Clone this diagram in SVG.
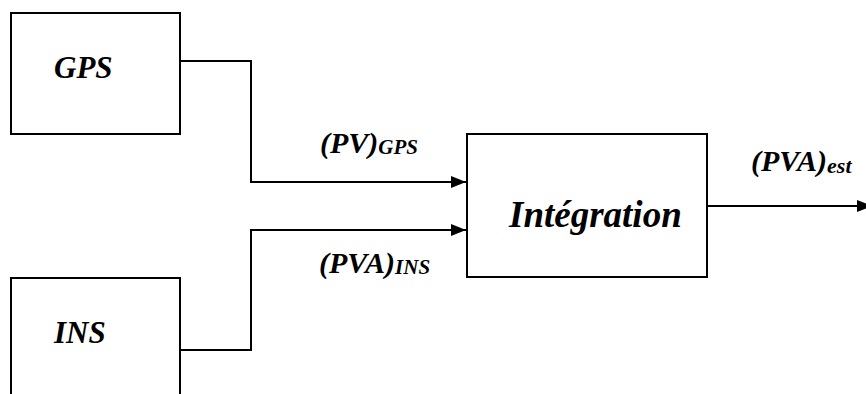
<svg xmlns="http://www.w3.org/2000/svg" width="866" height="394" viewBox="0 0 866 394">
<defs>
<marker id="arr" markerWidth="15" markerHeight="12" refX="15" refY="6" orient="auto" markerUnits="userSpaceOnUse">
<path d="M0,0 L15,6 L0,12 Z" fill="#000"/>
</marker>
<style>
.box{fill:#fff;stroke:#000;stroke-width:2}
.conn{fill:none;stroke:#000;stroke-width:2}
</style>
</defs>
<rect width="866" height="394" fill="#fff"/>
<g id="connectors">
<path class="conn" d="M180,61 H251 V182 H466" marker-end="url(#arr)"/>
<path class="conn" d="M180,350 H251 V230 H466" marker-end="url(#arr)"/>
<path class="conn" d="M707,206 H872" marker-end="url(#arr)"/>
</g>
<g font-family="Liberation Serif, Times New Roman, serif" font-weight="bold" font-style="italic" fill="#000">
<g id="gps">
<rect class="box" x="11" y="13" width="169" height="121"/>
<text x="54" y="78" font-size="31">GPS</text>
</g>
<g id="ins">
<rect class="box" x="11" y="278" width="169" height="130"/>
<text x="54" y="343" font-size="31">INS</text>
</g>
<g id="integration">
<rect class="box" x="467" y="134" width="240" height="143"/>
<text x="509" y="227" font-size="37">Intégration</text>
</g>
<g id="labels">
<text x="320" y="153" font-size="30">(PV)<tspan font-size="21" dy="1">GPS</tspan></text>
<text x="319" y="273" font-size="30">(PVA)<tspan font-size="21" dy="1">INS</tspan></text>
<text x="751" y="171" font-size="30">(PVA)<tspan font-size="22" dy="2">est</tspan></text>
</g>
</g>
</svg>
